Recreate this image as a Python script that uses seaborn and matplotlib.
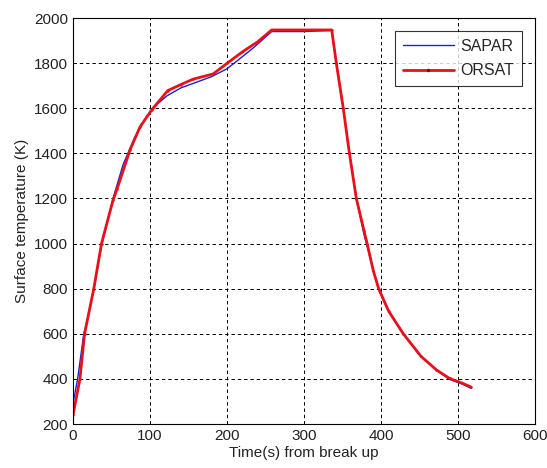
import numpy as np
import pandas as pd
import matplotlib
matplotlib.use("Agg")
import matplotlib.pyplot as plt
import seaborn as sns

sapar_t = [0, 6, 14, 17, 27, 37, 45, 52, 65, 80, 95, 110, 122, 140, 160, 180, 200, 215, 235, 258, 300, 336, 342, 351, 359, 368, 378, 382, 390, 397, 410, 429, 452, 472, 489, 505, 517]
sapar_T = [293, 400, 600, 640, 800, 990, 1100, 1200, 1350, 1470, 1560, 1620, 1655, 1690, 1715, 1740, 1775, 1815, 1870, 1940, 1940, 1945, 1800, 1600, 1400, 1200, 1040, 990, 880, 795, 700, 598, 500, 440, 398, 378, 358]

orsat_t = [0, 9, 15, 27, 37, 52, 57, 74, 87, 102, 123, 140, 156, 182, 200, 220, 240, 258, 300, 336, 342, 351, 359, 368, 378, 382, 390, 397, 410, 429, 452, 472, 489, 505, 517]
orsat_T = [240, 400, 600, 800, 1000, 1193, 1240, 1415, 1517, 1592, 1678, 1705, 1729, 1752, 1799, 1850, 1895, 1947, 1947, 1947, 1800, 1600, 1400, 1200, 1056, 1000, 880, 800, 700, 600, 500, 440, 402, 382, 364]

series = ["SAPAR", "ORSAT"]
colors = {"SAPAR": "#1f1fd0", "ORSAT": "#e8101a"}

df = pd.concat([
    pd.DataFrame({"t": sapar_t, "T": sapar_T, "s": "SAPAR"}),
    pd.DataFrame({"t": orsat_t, "T": orsat_T, "s": "ORSAT"}),
])

sns.set_style("white")
plt.rcParams["font.family"] = ["Liberation Sans", "DejaVu Sans"]

fig = plt.figure(figsize=(5.47, 4.68), dpi=100)
ax = fig.add_axes([0.1335, 0.094, 0.8445, 0.8675])

sns.lineplot(data=df[df.s == "SAPAR"], x="t", y="T", color=colors["SAPAR"], lw=1.0,
             sort=False, estimator=None, ax=ax, label="SAPAR")
sns.lineplot(data=df[df.s == "ORSAT"], x="t", y="T", color=colors["ORSAT"], lw=2.0,
             marker=".", markersize=3.5, markerfacecolor=colors["ORSAT"], markeredgewidth=0,
             sort=False, estimator=None, ax=ax, label="ORSAT")

ax.set_xlim(0, 600)
ax.set_ylim(200, 2000)
ax.set_xticks(range(0, 601, 100))
ax.set_yticks(range(200, 2001, 200))
ax.grid(True, color="black", linestyle=(0, (3.5, 3)), linewidth=0.7)
ax.tick_params(direction="in", labelsize=11, length=4, colors="black", labelcolor="#222222")
for sp in ax.spines.values():
    sp.set_color("black")
    sp.set_linewidth(0.8)
ax.set_xlabel("Time(s) from break up", fontsize=11, color="#222222", labelpad=2)
ax.set_ylabel("Surface temperature (K)", fontsize=11, color="#222222", labelpad=4)

leg = ax.legend(loc="upper right", fontsize=11.5, frameon=True, fancybox=False,
                edgecolor="black", borderaxespad=0.8, handlelength=3.2,
                handletextpad=0.4, borderpad=0.5, labelspacing=0.6)
leg.get_frame().set_linewidth(0.8)
for h in leg.get_lines():
    if h.get_label() == "ORSAT":
        h.set_markerfacecolor("#900010")
        h.set_markersize(5)

fig.savefig("out.png", dpi=100)
